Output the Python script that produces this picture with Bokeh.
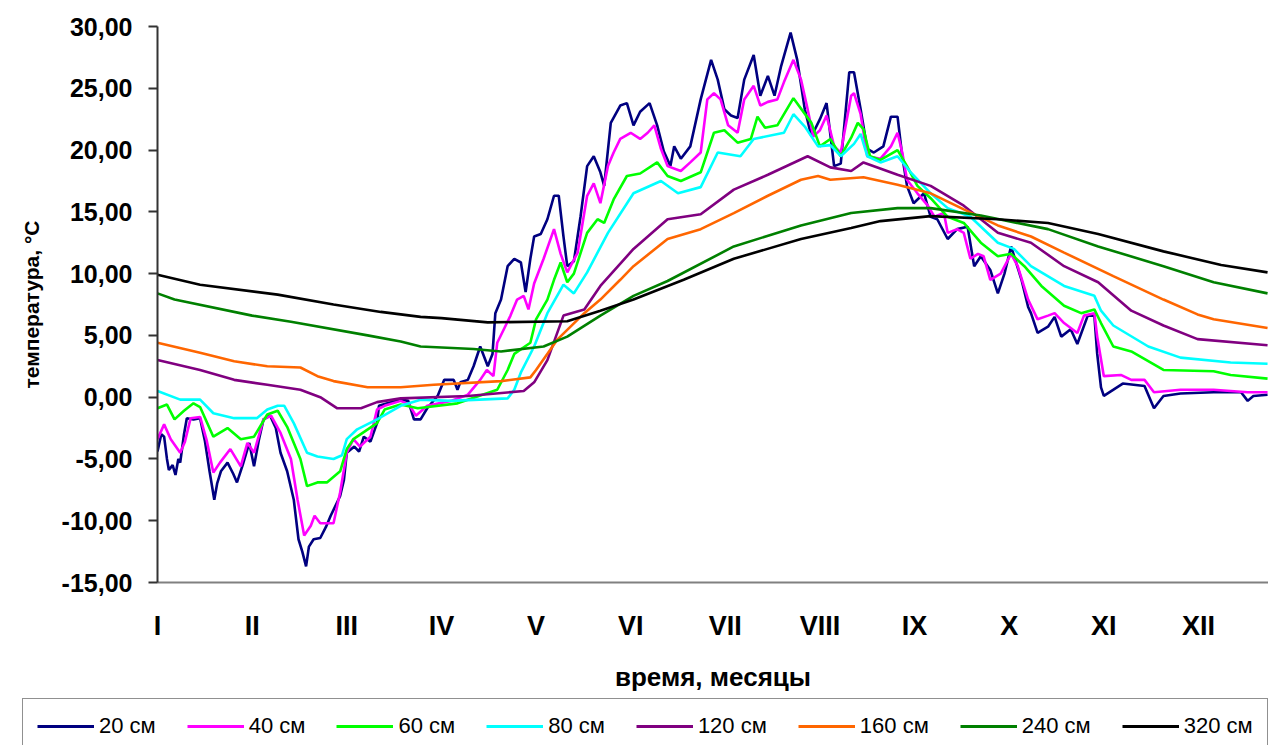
from bokeh.plotting import figure
from bokeh.models import FixedTicker, Legend, LegendItem, Range1d
from bokeh.layouts import column
from bokeh.embed import file_html
from bokeh.resources import INLINE

months = ["I", "II", "III", "IV", "V", "VI", "VII", "VIII", "IX", "X", "XI", "XII"]
y_ticks = [-15, -10, -5, 0, 5, 10, 15, 20, 25, 30]
y_tick_labels = ["-15,00", "-10,00", "-5,00", "0,00", "5,00", "10,00", "15,00", "20,00", "25,00", "30,00"]
series_names = ["20 см", "40 см", "60 см", "80 см", "120 см", "160 см", "240 см", "320 см"]
series_colors = ["#000080", "#FF00FF", "#00FF00", "#00FFFF", "#800080", "#FF6600", "#008000", "#000000"]

# time in months (0 = start of January)
x20 = [0.00, 0.04, 0.07, 0.10, 0.12, 0.16, 0.19, 0.22, 0.24, 0.28,
       0.31, 0.38, 0.45, 0.50, 0.55, 0.60, 0.63, 0.67, 0.74, 0.80,
       0.84, 0.90, 0.97, 1.02, 1.07, 1.12, 1.19, 1.25, 1.30, 1.37,
       1.44, 1.49, 1.53, 1.57, 1.60, 1.65, 1.72, 1.78, 1.83, 1.93,
       1.97, 2.00, 2.08, 2.13, 2.18, 2.25, 2.32, 2.34, 2.43, 2.57,
       2.65, 2.71, 2.78, 2.85, 2.96, 3.03, 3.13, 3.17, 3.20, 3.28,
       3.34, 3.41, 3.49, 3.54, 3.57, 3.63, 3.70, 3.77, 3.84, 3.89,
       3.94, 3.98, 4.05, 4.12, 4.19, 4.24, 4.29, 4.33, 4.40, 4.47,
       4.54, 4.61, 4.68, 4.72, 4.79, 4.89, 4.96, 5.03, 5.10, 5.20,
       5.28, 5.35, 5.42, 5.46, 5.53, 5.63, 5.74, 5.85, 5.92, 5.99,
       6.06, 6.13, 6.20, 6.30, 6.37, 6.45, 6.52, 6.59, 6.69, 6.76,
       6.84, 6.91, 7.00, 7.07, 7.15, 7.22, 7.31, 7.36, 7.43, 7.50,
       7.57, 7.67, 7.75, 7.82, 7.87, 7.92, 7.99, 8.10, 8.17, 8.24,
       8.35, 8.45, 8.56, 8.63, 8.70, 8.80, 8.88, 8.95, 9.02, 9.13,
       9.20, 9.23, 9.30, 9.41, 9.48, 9.55, 9.65, 9.72, 9.83, 9.90,
       9.93, 9.97, 10.00, 10.20, 10.43, 10.53, 10.63, 10.81, 11.16, 11.45,
       11.52, 11.58, 11.73]
t20 = [-4.4, -3.0, -3.2, -5.0, -5.9, -5.5, -6.3, -5.0, -5.3, -3.0,
       -1.7, -1.8, -1.7, -3.5, -6.0, -8.3, -7.0, -6.0, -5.3, -6.2,
       -6.9, -5.5, -3.7, -5.6, -3.5, -1.8, -1.5, -2.5, -4.5, -6.0,
       -8.3, -11.5, -12.5, -13.7, -12.1, -11.5, -11.4, -10.5, -9.6, -8.0,
       -6.7, -4.5, -4.0, -4.4, -3.2, -3.6, -2.1, -0.7, -0.5, -0.2,
       -0.3, -1.8, -1.8, -0.9, 0.1, 1.4, 1.4, 0.6, 1.2, 1.4,
       2.5, 4.1, 2.5, 3.5, 6.8, 7.9, 10.6, 11.2, 10.9, 8.5,
       11.2, 13.0, 13.2, 14.4, 16.3, 16.3, 13.0, 10.6, 11.0, 14.6,
       18.7, 19.5, 18.2, 17.1, 22.2, 23.6, 23.8, 22.0, 23.1, 23.8,
       22.0, 19.9, 18.7, 20.3, 19.3, 20.3, 24.1, 27.3, 25.7, 23.3,
       22.8, 22.6, 25.7, 27.7, 24.4, 26.0, 24.4, 26.8, 29.5, 27.3,
       23.3, 21.1, 22.5, 23.8, 18.7, 18.9, 26.3, 26.3, 23.3, 20.1,
       19.8, 20.3, 22.7, 22.7, 19.5, 17.1, 15.7, 16.5, 14.6, 14.4,
       12.8, 13.6, 13.8, 10.6, 11.4, 10.3, 8.4, 10.0, 12.2, 9.5,
       7.3, 6.8, 5.2, 5.7, 6.5, 4.9, 5.5, 4.3, 6.6, 6.6,
       3.5, 0.8, 0.1, 1.1, 0.9, -0.9, 0.1, 0.3, 0.4, 0.4,
       -0.3, 0.1, 0.2]

x40 = [0.00, 0.07, 0.14, 0.24, 0.29, 0.35, 0.45, 0.52, 0.59, 0.66,
       0.77, 0.88, 0.95, 1.02, 1.12, 1.20, 1.30, 1.41, 1.48, 1.55,
       1.62, 1.66, 1.72, 1.86, 1.93, 2.00, 2.07, 2.14, 2.25, 2.32,
       2.40, 2.57, 2.66, 2.73, 2.85, 3.10, 3.28, 3.41, 3.48, 3.55,
       3.59, 3.66, 3.73, 3.80, 3.87, 3.92, 3.98, 4.08, 4.19, 4.26,
       4.33, 4.44, 4.54, 4.61, 4.68, 4.76, 4.82, 4.89, 5.00, 5.10,
       5.18, 5.25, 5.32, 5.39, 5.53, 5.63, 5.74, 5.81, 5.88, 5.95,
       6.03, 6.13, 6.20, 6.30, 6.37, 6.45, 6.55, 6.62, 6.72, 6.80,
       6.87, 6.93, 7.00, 7.07, 7.15, 7.22, 7.33, 7.36, 7.43, 7.50,
       7.64, 7.75, 7.82, 7.87, 7.92, 8.03, 8.14, 8.21, 8.31, 8.35,
       8.45, 8.52, 8.59, 8.67, 8.73, 8.80, 8.91, 9.02, 9.09, 9.20,
       9.30, 9.41, 9.48, 9.58, 9.72, 9.79, 9.90, 9.93, 10.00, 10.18,
       10.29, 10.43, 10.53, 10.81, 11.16, 11.52, 11.73]
t40 = [-3.4, -2.2, -3.4, -4.5, -3.6, -1.7, -1.6, -3.5, -6.1, -5.3,
       -4.2, -5.6, -3.7, -4.5, -1.8, -1.5, -2.9, -5.0, -8.3, -11.2,
       -10.4, -9.6, -10.2, -10.2, -7.7, -4.5, -3.4, -4.0, -3.2, -1.0,
       -0.7, -0.3, -0.6, -1.5, -0.7, -0.3, 0.2, 1.4, 2.2, 1.7,
       4.4, 5.5, 6.6, 7.9, 8.2, 7.1, 9.2, 11.2, 13.6, 11.6,
       10.1, 11.7, 16.3, 17.3, 15.7, 18.7, 19.8, 20.9, 21.4, 20.9,
       21.4, 22.0, 20.1, 18.7, 18.3, 19.0, 19.8, 24.1, 24.6, 24.1,
       22.0, 21.4, 24.1, 25.2, 23.6, 23.9, 24.1, 25.5, 27.3, 25.7,
       23.3, 21.1, 21.6, 22.8, 20.3, 19.8, 24.4, 24.6, 22.9, 19.5,
       19.3, 20.3, 21.4, 19.8, 17.6, 16.5, 15.5, 14.6, 14.9, 13.3,
       13.6, 13.3, 11.2, 11.6, 11.4, 9.5, 10.0, 11.6, 10.6, 7.9,
       6.3, 6.6, 6.8, 6.0, 5.2, 6.6, 6.8, 4.9, 1.7, 1.8,
       1.4, 1.4, 0.4, 0.6, 0.6, 0.4, 0.4]

x60 = [0.00, 0.10, 0.18, 0.28, 0.38, 0.45, 0.59, 0.74, 0.88, 1.02,
       1.16, 1.27, 1.37, 1.51, 1.58, 1.69, 1.79, 1.93, 2.00, 2.07,
       2.32, 2.40, 2.57, 2.75, 3.17, 3.59, 3.70, 3.77, 3.94, 4.00,
       4.12, 4.19, 4.26, 4.33, 4.40, 4.54, 4.65, 4.72, 4.82, 4.96,
       5.10, 5.28, 5.39, 5.53, 5.74, 5.88, 5.99, 6.13, 6.27, 6.34,
       6.42, 6.55, 6.72, 6.91, 7.00, 7.11, 7.22, 7.33, 7.40, 7.46,
       7.53, 7.64, 7.82, 7.92, 8.03, 8.17, 8.35, 8.52, 8.70, 8.88,
       9.02, 9.16, 9.34, 9.58, 9.76, 9.90, 9.97, 10.10, 10.29, 10.63,
       11.16, 11.34, 11.73]
t60 = [-0.9, -0.6, -1.8, -1.1, -0.5, -0.8, -3.2, -2.5, -3.4, -3.2,
       -1.4, -1.1, -2.4, -5.0, -7.2, -6.9, -6.9, -6.0, -4.2, -3.4,
       -2.1, -1.0, -0.6, -0.9, -0.5, 0.6, 2.2, 3.5, 4.4, 6.3,
       7.9, 9.5, 10.9, 9.3, 10.0, 13.3, 14.4, 14.1, 16.0, 17.9,
       18.1, 19.0, 17.9, 17.5, 18.2, 21.4, 21.6, 20.6, 20.9, 22.7,
       21.8, 22.0, 24.2, 22.2, 20.3, 20.9, 19.5, 21.0, 22.2, 21.7,
       19.5, 19.2, 20.0, 18.7, 17.1, 16.1, 14.6, 14.1, 12.5, 11.4,
       11.6, 10.6, 9.0, 7.4, 6.8, 7.1, 6.0, 4.1, 3.7, 2.2,
       2.1, 1.8, 1.5]

x80 = [0.00, 0.24, 0.45, 0.59, 0.81, 1.05, 1.16, 1.27, 1.34, 1.44,
       1.58, 1.69, 1.86, 1.95, 2.00, 2.11, 2.32, 2.57, 2.78, 3.10,
       3.70, 3.77, 3.84, 3.98, 4.12, 4.29, 4.40, 4.54, 4.76, 5.03,
       5.32, 5.50, 5.74, 5.92, 6.16, 6.30, 6.62, 6.72, 6.84, 6.98,
       7.11, 7.22, 7.36, 7.43, 7.50, 7.64, 7.82, 7.96, 8.17, 8.35,
       8.59, 8.88, 9.05, 9.23, 9.58, 9.90, 9.97, 10.10, 10.47, 10.81,
       11.34, 11.73]
t80 = [0.5, -0.2, -0.2, -1.3, -1.7, -1.7, -1.0, -0.7, -0.7, -2.1,
       -4.5, -4.8, -5.0, -4.7, -3.4, -2.6, -1.8, -0.7, -0.2, -0.3,
       -0.1, 0.6, 2.0, 4.1, 6.8, 9.1, 8.4, 10.1, 13.3, 16.5,
       17.5, 16.5, 17.0, 19.8, 19.5, 20.9, 21.4, 22.9, 21.9, 20.3,
       20.4, 19.5, 20.5, 21.3, 19.5, 19.0, 19.5, 18.2, 16.5, 15.3,
       14.6, 12.5, 12.0, 10.6, 9.0, 8.2, 7.0, 5.8, 4.1, 3.2,
       2.8, 2.7]

x120 = [0.00, 0.45, 0.81, 1.16, 1.51, 1.72, 1.90, 2.15, 2.32, 2.57,
        3.28, 3.87, 3.98, 4.12, 4.29, 4.51, 4.68, 5.03, 5.39, 5.74,
        6.09, 6.45, 6.87, 7.11, 7.33, 7.46, 7.82, 8.17, 8.52, 8.88,
        9.23, 9.58, 9.94, 10.29, 10.63, 10.99, 11.73]
t120 = [3.0, 2.2, 1.4, 1.0, 0.6, 0.0, -0.9, -0.9, -0.4, -0.1,
        0.1, 0.5, 1.2, 3.0, 6.6, 7.1, 9.0, 12.0, 14.4, 14.8,
        16.8, 18.0, 19.5, 18.6, 18.3, 19.0, 18.0, 17.1, 15.5, 13.3,
        12.5, 10.6, 9.3, 7.0, 5.8, 4.7, 4.2]

x160 = [0.00, 0.45, 0.81, 1.16, 1.51, 1.69, 1.86, 2.22, 2.57, 2.92,
        3.63, 3.94, 4.00, 4.23, 4.51, 4.68, 4.89, 5.03, 5.39, 5.74,
        6.09, 6.45, 6.80, 6.98, 7.11, 7.46, 7.82, 8.17, 8.52, 8.88,
        9.23, 9.58, 10.10, 10.63, 10.99, 11.16, 11.73]
t160 = [4.4, 3.6, 2.9, 2.5, 2.4, 1.7, 1.3, 0.8, 0.8, 1.0,
        1.3, 1.6, 2.2, 4.7, 6.8, 7.9, 9.5, 10.6, 12.8, 13.6,
        14.9, 16.3, 17.6, 17.9, 17.6, 17.8, 17.2, 16.5, 15.2, 13.9,
        13.0, 11.7, 9.8, 7.9, 6.7, 6.3, 5.6]

x240 = [0.00, 0.18, 1.00, 1.41, 2.22, 2.57, 2.78, 3.34, 3.63, 4.08,
        4.33, 4.68, 5.03, 5.39, 6.09, 6.80, 7.33, 7.82, 8.17, 8.70,
        9.41, 9.94, 10.63, 11.16, 11.73]
t240 = [8.4, 7.9, 6.6, 6.1, 5.0, 4.5, 4.1, 3.9, 3.7, 4.1,
        4.9, 6.6, 8.2, 9.4, 12.2, 13.9, 14.9, 15.3, 15.3, 14.7,
        13.6, 12.2, 10.6, 9.3, 8.4]

x320 = [0.00, 0.45, 1.27, 1.86, 2.36, 2.78, 3.00, 3.49, 4.33, 4.68,
        5.03, 5.56, 6.09, 6.80, 7.33, 7.64, 8.17, 8.88, 9.41, 9.94,
        10.63, 11.24, 11.73]
t320 = [9.9, 9.1, 8.3, 7.5, 6.9, 6.5, 6.4, 6.05, 6.15, 7.0,
        7.9, 9.5, 11.2, 12.8, 13.7, 14.25, 14.65, 14.4, 14.1, 13.2,
        11.8, 10.7, 10.1]

xs = [x20, x40, x60, x80, x120, x160, x240, x320]
ts = [t20, t40, t60, t80, t120, t160, t240, t320]

FONT = "Liberation Sans"
LINE_W = 2.6

p = figure(width=1268, height=698, output_backend="svg", toolbar_location=None,
           title=None, x_range=Range1d(0, 11.74), y_range=Range1d(-15, 30),
           min_border_left=157, min_border_top=26, min_border_right=0,
           min_border_bottom=116)
p.frame_align = False
p.outline_line_color = None
p.grid.visible = False
p.background_fill_color = "white"
p.border_fill_color = "white"

# y axis
p.yaxis.ticker = FixedTicker(ticks=y_ticks)
p.yaxis.major_label_overrides = {v: s for v, s in zip(y_ticks, y_tick_labels)}
p.yaxis.major_label_text_font = FONT
p.yaxis.major_label_text_font_style = "bold"
p.yaxis.major_label_text_font_size = "25px"
p.yaxis.major_label_text_color = "black"
p.yaxis.major_label_standoff = 16
p.yaxis.major_tick_out = 9
p.yaxis.major_tick_in = 0
p.yaxis.minor_tick_out = 0
p.yaxis.minor_tick_in = 0
p.yaxis.axis_line_color = "#333333"
p.yaxis.axis_line_width = 2
p.yaxis.major_tick_line_color = "#333333"
p.yaxis.major_tick_line_width = 2
p.yaxis.axis_label = "температура, °С"
p.yaxis.axis_label_text_font = FONT
p.yaxis.axis_label_text_font_style = "bold"
p.yaxis.axis_label_text_font_size = "21px"
p.yaxis.axis_label_text_color = "black"
p.yaxis.axis_label_standoff = 16

# x axis
p.xaxis.ticker = FixedTicker(ticks=list(range(12)))
p.xaxis.major_label_overrides = {i: m for i, m in enumerate(months)}
p.xaxis.major_label_text_font = FONT
p.xaxis.major_label_text_font_style = "bold"
p.xaxis.major_label_text_font_size = "27px"
p.xaxis.major_label_text_color = "black"
p.xaxis.major_label_standoff = 28
p.xaxis.major_tick_out = 0
p.xaxis.major_tick_in = 0
p.xaxis.minor_tick_out = 0
p.xaxis.minor_tick_in = 0
p.xaxis.axis_line_color = "#808080"
p.xaxis.axis_line_width = 2
p.xaxis.axis_label = "время, месяцы"
p.xaxis.axis_label_text_font = FONT
p.xaxis.axis_label_text_font_style = "bold"
p.xaxis.axis_label_text_font_size = "26px"
p.xaxis.axis_label_text_color = "black"
p.xaxis.axis_label_standoff = 18

for color, x, t in zip(series_colors, xs, ts):
    p.line(x, t, line_color=color, line_width=LINE_W)

# legend strip below the chart (its view range excludes the data, so only the legend shows)
lg = figure(width=1268, height=47, output_backend="svg", toolbar_location=None,
            title=None, x_axis_type=None, y_axis_type=None,
            x_range=Range1d(0, 11.74), y_range=Range1d(1000, 1001),
            min_border_left=0, min_border_right=0, min_border_top=0, min_border_bottom=0)
lg.frame_align = False
lg.outline_line_color = None
lg.grid.visible = False
lg.background_fill_color = "white"
lg.border_fill_color = "white"

items = []
for name, color, x, t in zip(series_names, series_colors, xs, ts):
    r = lg.line(x, t, line_color=color, line_width=LINE_W + 0.4)
    items.append(LegendItem(label=name, renderers=[r]))

legend = Legend(items=items, orientation="horizontal", location=(22, -9),
                glyph_width=57, glyph_height=26, label_standoff=5, spacing=31,
                padding=14, margin=0, label_text_font=FONT,
                label_text_font_size="22px", label_text_color="black",
                label_height=26,
                border_line_color="#222222", border_line_width=1.5,
                background_fill_color="white", background_fill_alpha=1.0)
lg.add_layout(legend, "center")

open("out.html", "w").write(file_html(column(p, lg, spacing=0), INLINE))
